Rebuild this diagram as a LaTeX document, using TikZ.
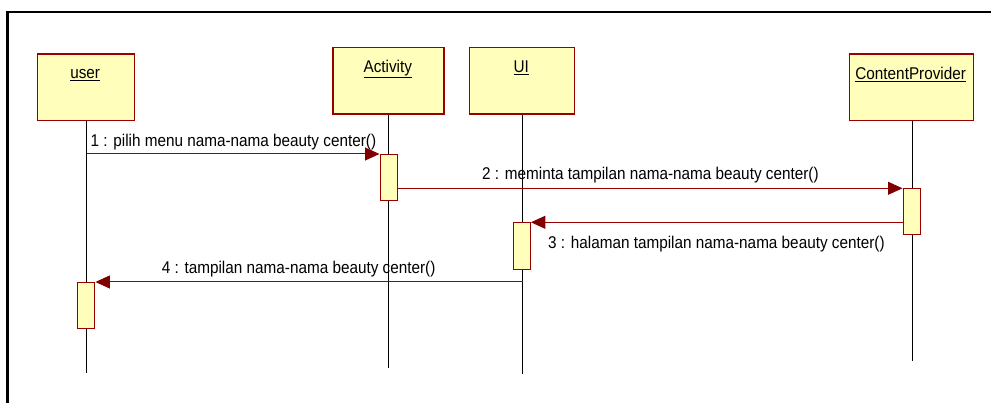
\documentclass[tikz,border=0pt]{standalone}
\usepackage{fontspec}
\setmainfont[FakeStretch=0.9]{Liberation Sans}
\usetikzlibrary{arrows.meta}
\definecolor{boxred}{RGB}{153,0,0}
\definecolor{tipred}{RGB}{128,0,0}
\definecolor{boxfill}{RGB}{255,255,187}
\tikzset{
  objbox/.style={draw=boxred, fill=boxfill, line width=1.3pt, inner sep=0pt, anchor=north west},
  actbox/.style={draw=boxred, fill=boxfill, line width=1.2pt, inner sep=0pt, anchor=north west, minimum width=17pt},
  objlabel/.style={inner sep=0pt, anchor=base, font=\fontsize{17}{20}\selectfont},
  msglabel/.style={inner sep=0pt, anchor=base west, font=\fontsize{17}{20}\selectfont},
  lifeline/.style={draw=black, line width=1pt},
  msg/.style={draw=boxred, line width=1pt, -{Triangle[length=14.5pt,width=13pt,fill=tipred,color=tipred]}},
  frameline/.style={draw=black, line width=2.2pt}
}
\begin{document}
\begin{tikzpicture}[x=1pt,y=-1pt]
\useasboundingbox (0,0) rectangle (991,403);
% frame
\draw[frameline] (7.5,403) -- (7.5,12) -- (991,12);
% object boxes
\node[objbox, minimum width=97pt, minimum height=66.7pt] (user) at (36.7,53.3) {};
\node[objbox, minimum width=111pt, minimum height=66.7pt] (act) at (332.3,46.7) {};
\node[objbox, minimum width=105.3pt, minimum height=66.7pt] (ui) at (468.7,46.7) {};
\node[objbox, minimum width=124pt, minimum height=66.7pt] (cp) at (848.7,53.3) {};
\node[objlabel] (userL) at (85.2,79) {\underline{user}};
\node[objlabel] (actL) at (387.8,72.7) {\underline{Activity}};
\node[objlabel] (uiL) at (521.3,72.7) {\underline{UI}};
\node[objlabel] (cpL) at (910.7,79.3) {\underline{ContentProvider}};
% lifeline ends
\coordinate (userE) at (86.7,373);
\coordinate (actE) at (388.7,368);
\coordinate (uiE) at (522.7,374);
\coordinate (cpE) at (912,361);
\draw[lifeline] (user.south -| userE) -- (userE);
\draw[lifeline] (act.south -| actE) -- (actE);
\draw[lifeline] (ui.south -| uiE) -- (uiE);
\draw[lifeline] (cp.south -| cpE) -- (cpE);
% activations
\node[actbox, minimum height=46pt] (aAct) at (379.5,154) {};
\node[actbox, minimum height=46pt] (aCp) at (902.5,188.3) {};
\node[actbox, minimum height=46.4pt] (aUi) at (512.7,222.3) {};
\node[actbox, minimum height=46.3pt] (aUser) at (77.2,282) {};
% messages
\draw[msg] (userE |- aAct.north west) -- (aAct.north west);
\draw[msg] (aAct.east |- aCp.north west) -- (aCp.north west);
\draw[msg] (aCp.west |- aUi.north east) -- (aUi.north east);
\draw[msg] (uiE |- aUser.north east) -- (aUser.north east);
% message labels
\node[msglabel] (m1) at (90.5,146.5) {1 : pilih menu nama-nama beauty center()};
\node[msglabel] (m2) at (482,180) {2 : meminta tampilan nama-nama beauty center()};
\node[msglabel] (m3) at (548,248.3) {3 : halaman tampilan nama-nama beauty center()};
\node[msglabel] (m4) at (161.7,274) {4 : tampilan nama-nama beauty center()};
\end{tikzpicture}
\end{document}
